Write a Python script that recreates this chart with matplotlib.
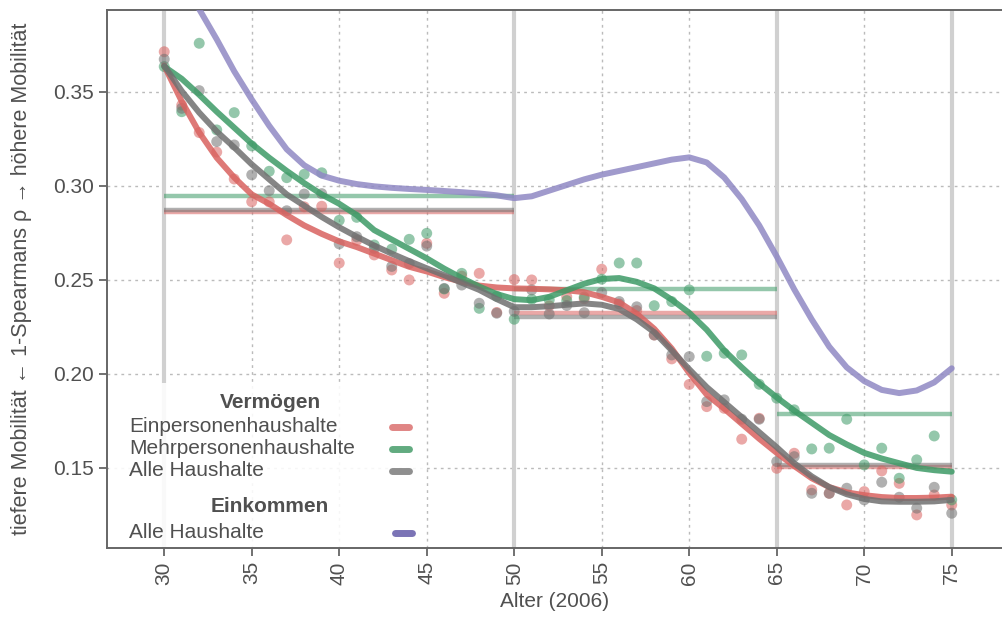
import numpy as np
import matplotlib
matplotlib.use("Agg")
import matplotlib.pyplot as plt
from matplotlib.lines import Line2D
from matplotlib.patches import Rectangle

plt.rcParams['font.family'] = ['Liberation Sans', 'DejaVu Sans']

# Daten
alter = list(range(30, 76))

punkte_ein = [0.3714, 0.343, 0.3284, 0.318, 0.3037, 0.2916, 0.2915, 0.2713, 0.2889, 0.2892,
              0.259, 0.271, 0.2633, 0.2553, 0.250, 0.2695, 0.2429, 0.252, 0.2535, 0.2327,
              0.2502, 0.250, 0.2362, 0.2411, 0.240, 0.2557, 0.2372, 0.2337, 0.2207, 0.208,
              0.1944, 0.1826, 0.1817, 0.1653, 0.1764, 0.1498, 0.1578, 0.1383, 0.1365, 0.1303,
              0.1374, 0.1484, 0.1418, 0.125, 0.1356, 0.1303]
punkte_mehr = [0.3635, 0.3395, 0.3759, 0.3298, 0.339, 0.3213, 0.3078, 0.3044, 0.3062, 0.307,
               0.2817, 0.2833, 0.2686, 0.2664, 0.2716, 0.2748, 0.2452, 0.2535, 0.2349, 0.2413,
               0.2291, 0.2397, 0.2394, 0.239, 0.2409, 0.2504, 0.259, 0.259, 0.2363, 0.2385,
               0.2447, 0.2094, 0.211, 0.2101, 0.1945, 0.1871, 0.1809, 0.1601, 0.1605, 0.1759,
               0.1516, 0.1605, 0.1445, 0.1543, 0.167, 0.133]
punkte_alle = [0.3674, 0.3413, 0.3507, 0.3236, 0.3218, 0.3059, 0.2975, 0.2868, 0.2957, 0.2959,
               0.2692, 0.273, 0.2668, 0.2572, 0.2587, 0.268, 0.2455, 0.2473, 0.2376, 0.2323,
               0.2333, 0.2447, 0.2319, 0.2364, 0.2326, 0.2433, 0.2385, 0.2357, 0.2207, 0.2101,
               0.2092, 0.1853, 0.1862, 0.1759, 0.1759, 0.1534, 0.156, 0.1365, 0.1365, 0.1392,
               0.133, 0.1424, 0.1344, 0.1286, 0.1397, 0.1259]

kurve_ein = [0.364, 0.345, 0.3285, 0.315, 0.3045, 0.2955, 0.2905, 0.2845, 0.279, 0.2745,
             0.2705, 0.2675, 0.264, 0.2605, 0.257, 0.2545, 0.2515, 0.249, 0.247, 0.246,
             0.2455, 0.2453, 0.245, 0.2445, 0.2435, 0.241, 0.238, 0.232, 0.224, 0.2135,
             0.2005, 0.189, 0.1815, 0.1735, 0.1655, 0.158, 0.151, 0.1445, 0.1398, 0.137,
             0.1355, 0.1345, 0.134, 0.134, 0.1342, 0.1347]
kurve_mehr = [0.3635, 0.357, 0.3485, 0.3395, 0.331, 0.3225, 0.315, 0.308, 0.3015, 0.2955,
              0.2905, 0.2845, 0.2765, 0.2715, 0.2665, 0.2615, 0.256, 0.251, 0.2465, 0.2425,
              0.2398, 0.2392, 0.241, 0.2445, 0.248, 0.2505, 0.251, 0.249, 0.2455, 0.2395,
              0.2325, 0.2235, 0.2125, 0.2035, 0.195, 0.1875, 0.1805, 0.174, 0.1675, 0.1625,
              0.158, 0.155, 0.1525, 0.150, 0.1488, 0.148]
kurve_alle = [0.364, 0.3505, 0.339, 0.329, 0.3205, 0.3115, 0.3035, 0.2955, 0.2895, 0.2835,
              0.278, 0.273, 0.2683, 0.264, 0.26, 0.2562, 0.2525, 0.2485, 0.2447, 0.2398,
              0.2355, 0.2355, 0.236, 0.2368, 0.2375, 0.2368, 0.2345, 0.229, 0.2222, 0.2125,
              0.2025, 0.193, 0.185, 0.177, 0.169, 0.161, 0.1525, 0.1455, 0.1398, 0.136,
              0.1335, 0.1322, 0.132, 0.132, 0.1322, 0.133]
kurve_eink = [0.45, 0.42, 0.394, 0.378, 0.361, 0.346, 0.332, 0.3195, 0.311, 0.3055,
              0.3028, 0.301, 0.2998, 0.299, 0.2984, 0.2979, 0.2973, 0.2967, 0.296, 0.295,
              0.2935, 0.2945, 0.2975, 0.3005, 0.3035, 0.306, 0.308, 0.310, 0.312, 0.314,
              0.3152, 0.3125, 0.3045, 0.293, 0.279, 0.2625, 0.245, 0.229, 0.2145, 0.2035,
              0.1962, 0.1915, 0.1898, 0.1912, 0.1955, 0.203]

# Mittelwerte je Altersabschnitt
abschnitte = [(30, 50), (50, 65), (65, 75)]
mittel_ein = [0.2864, 0.2323, 0.1507]
mittel_mehr = [0.2948, 0.2452, 0.1785]
mittel_alle = [0.2873, 0.2305, 0.1516]
grenzen = [30, 50, 65, 75]

ROT = '#d9625f'
GRUEN = '#3d9a66'
GRAU = '#707070'
LILA = '#8f88c4'
TXT = '#505050'
FS = 15

fig = plt.figure(figsize=(10.03, 6.23), dpi=100)
ax = fig.add_axes([107 / 1003, 75 / 623, 896 / 1003, 538 / 623])

ax.set_xlim(26.73, 77.93)
ax.set_ylim(0.1074, 0.3936)

ax.grid(True, linestyle=(0, (2, 3)), color='#bbbbbb', lw=1)
for g in grenzen:
    ax.axvline(g, color='#d0d0d0', lw=3, zorder=1.8)

for mw, col in [(mittel_ein, ROT), (mittel_alle, GRAU), (mittel_mehr, GRUEN)]:
    for (a0, a1), m in zip(abschnitte, mw):
        ax.plot([a0, a1], [m, m], color=col, lw=3.2, alpha=0.55, zorder=2, solid_capstyle='butt')

ax.scatter(alter, punkte_ein, s=62, color=ROT, alpha=0.55, edgecolors='none', zorder=3)
ax.scatter(alter, punkte_mehr, s=62, color=GRUEN, alpha=0.55, edgecolors='none', zorder=3)
ax.scatter(alter, punkte_alle, s=62, color=GRAU, alpha=0.55, edgecolors='none', zorder=3)

ax.plot(alter, kurve_ein, color=ROT, lw=4.3, alpha=0.85, zorder=4, solid_capstyle='round')
ax.plot(alter, kurve_mehr, color=GRUEN, lw=4.3, alpha=0.85, zorder=4, solid_capstyle='round')
ax.plot(alter, kurve_alle, color=GRAU, lw=4.3, alpha=0.85, zorder=4, solid_capstyle='round')
ax.plot(alter, kurve_eink, color=LILA, lw=4.3, alpha=0.85, zorder=4, solid_capstyle='round')

ax.set_xticks(range(30, 76, 5))
ax.set_yticks([0.15, 0.20, 0.25, 0.30, 0.35])
ax.set_yticklabels(['0.15', '0.20', '0.25', '0.30', '0.35'])
ax.tick_params(axis='x', labelrotation=90)
ax.tick_params(colors='#666666', labelcolor=TXT, labelsize=FS, length=6, width=1.3, direction='out')
for side in ['left', 'bottom', 'top']:
    ax.spines[side].set_color('#666666')
    ax.spines[side].set_linewidth(1.4)
ax.spines['right'].set_visible(False)

ax.set_xlabel('Alter (2006)', fontsize=FS, color=TXT, labelpad=5)
ax.set_ylabel('tiefere Mobilität \u2190 1-Spearmans \u03c1 \u2192 höhere Mobilität',
              fontsize=15.5, color=TXT, labelpad=15)

# Legende von Hand
W, H = 1003, 623


def fx(px):
    return px / W


def fy(py):
    return 1 - py / H


fig.add_artist(Rectangle((fx(109), fy(547)), fx(425) - fx(109), fy(383) - fy(547),
                         transform=fig.transFigure, facecolor='white', alpha=0.88,
                         edgecolor='none', zorder=5))

fig.text(fx(270), fy(402), 'Vermögen', ha='center', va='center', fontsize=FS,
         fontweight='bold', color=TXT, zorder=6)
eintraege = [('Einpersonenhaushalte', '#e08584', 427), ('Mehrpersonenhaushalte', '#62ab80', 449),
             ('Alle Haushalte', '#8f8f8f', 471)]
for lab, col, yy in eintraege:
    fig.text(fx(129), fy(yy), lab, ha='left', va='center', fontsize=FS, color=TXT, zorder=6)
    fig.add_artist(Line2D([fx(392), fx(409)], [fy(yy), fy(yy)], transform=fig.transFigure,
                          color=col, lw=5, solid_capstyle='round', zorder=6))

fig.text(fx(270), fy(507), 'Einkommen', ha='center', va='center', fontsize=FS,
         fontweight='bold', color=TXT, zorder=6)
fig.text(fx(129), fy(533), 'Alle Haushalte', ha='left', va='center', fontsize=FS, color=TXT, zorder=6)
fig.add_artist(Line2D([fx(395), fx(412)], [fy(533), fy(533)], transform=fig.transFigure,
                      color='#7b74b6', lw=5, solid_capstyle='round', zorder=6))

fig.savefig('out.png', dpi=100)
